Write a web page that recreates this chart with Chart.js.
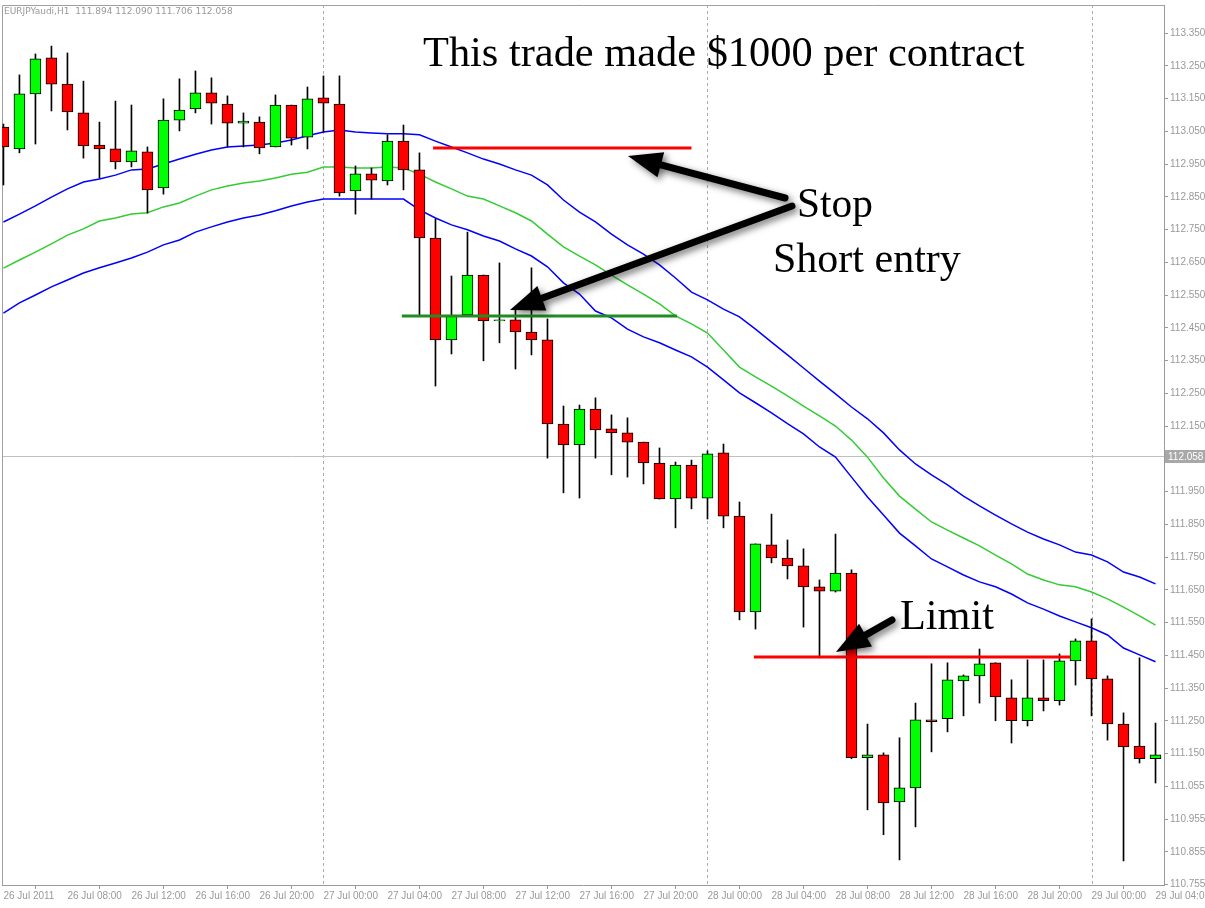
<!DOCTYPE html>
<html><head><meta charset="utf-8">
<script src="https://cdn.jsdelivr.net/npm/chart.js@4"></script>
<style>html,body{margin:0;padding:0;background:#fff}#wrap{width:1205px;height:908px;position:relative}</style>
</head><body><div id="wrap"><canvas id="c"></canvas></div>
<script>
const timeLabels=["26 Jul 2011","26 Jul 08:00","26 Jul 12:00","26 Jul 16:00","26 Jul 20:00","27 Jul 00:00","27 Jul 04:00","27 Jul 08:00","27 Jul 12:00","27 Jul 16:00","27 Jul 20:00","28 Jul 00:00","28 Jul 04:00","28 Jul 08:00","28 Jul 12:00","28 Jul 16:00","28 Jul 20:00","29 Jul 00:00","29 Jul 04:00"];
const priceTickValues=[113.35,113.25,113.15,113.05,112.95,112.85,112.75,112.65,112.55,112.45,112.35,112.25,112.15,112.05,111.95,111.85,111.75,111.65,111.55,111.45,111.35,111.25,111.15,111.05,110.95,110.85,110.75];
const priceTickLabels=["113.350","113.250","113.150","113.050","112.950","112.850","112.750","112.650","112.550","112.450","112.350","112.250","112.150","","111.950","111.850","111.750","111.650","111.550","111.450","111.350","111.250","111.150","111.055","110.955","110.855","110.755"];
const openP=[113.063,112.996,113.164,113.274,113.194,113.106,113.008,112.996,112.956,112.987,112.877,113.084,113.118,113.167,113.133,113.075,113.078,113.002,113.130,113.032,113.152,113.133,112.868,112.920,112.898,113.020,112.932,112.724,112.413,112.489,112.611,112.472,112.474,112.437,112.413,112.156,112.092,112.202,112.141,112.129,112.101,112.037,111.927,112.031,111.930,112.068,111.875,111.582,111.787,111.747,111.723,111.659,111.646,111.701,111.137,111.146,111.002,111.045,111.253,111.256,111.372,111.387,111.427,111.320,111.250,111.320,111.311,111.433,111.494,111.378,111.240,111.173,111.134];
const highP=[113.072,113.222,113.286,113.310,113.289,113.203,113.078,113.142,113.130,113.002,113.149,113.210,113.234,113.213,113.158,113.106,113.094,113.161,113.130,113.185,113.219,113.219,112.944,112.938,113.039,113.069,112.984,112.782,112.608,112.742,112.611,112.648,112.510,112.633,112.477,112.211,112.214,112.236,112.184,112.175,112.101,112.083,112.040,112.046,112.074,112.095,111.918,111.790,111.881,111.802,111.775,111.680,111.820,111.711,111.240,111.152,111.198,111.304,111.424,111.427,111.390,111.469,111.427,111.375,111.436,111.436,111.454,111.500,111.561,111.387,111.274,111.442,111.243];
const lowP=[112.886,112.984,113.011,113.112,113.054,112.968,112.907,112.935,112.941,112.800,112.858,113.051,113.106,113.072,113.002,113.002,112.981,113.002,113.008,112.996,113.048,112.852,112.797,112.843,112.886,112.871,112.486,112.272,112.370,112.489,112.349,112.404,112.324,112.367,112.052,111.946,111.930,112.052,112.001,111.994,111.973,111.927,111.839,111.897,111.866,111.839,111.558,111.530,111.732,111.683,111.536,111.442,111.643,111.134,110.978,110.902,110.825,110.926,111.155,111.216,111.265,111.304,111.250,111.182,111.234,111.280,111.298,111.359,111.265,111.191,110.822,111.121,111.060];
const closeP=[113.002,113.164,113.271,113.194,113.109,113.005,112.996,112.956,112.990,112.871,113.084,113.115,113.167,113.136,113.075,113.081,112.999,113.130,113.029,113.149,113.136,112.862,112.920,112.901,113.020,112.932,112.724,112.413,112.489,112.611,112.471,112.472,112.437,112.413,112.156,112.092,112.202,112.138,112.129,112.101,112.037,111.927,112.031,111.930,112.065,111.875,111.582,111.790,111.747,111.723,111.659,111.646,111.701,111.137,111.146,110.999,111.045,111.253,111.247,111.375,111.387,111.424,111.323,111.250,111.320,111.311,111.433,111.494,111.378,111.240,111.170,111.134,111.146];
const envUpper=[112.773,112.797,112.822,112.849,112.874,112.895,112.904,112.916,112.932,112.935,112.950,112.965,112.980,112.993,113.002,113.005,113.008,113.014,113.023,113.036,113.048,113.054,113.048,113.045,113.042,113.042,113.039,113.020,113.002,112.984,112.965,112.950,112.932,112.916,112.886,112.840,112.803,112.773,112.736,112.703,112.675,112.642,112.602,112.559,112.535,112.507,112.483,112.446,112.406,112.367,112.327,112.287,112.248,112.208,112.172,112.129,112.077,112.034,112.001,111.970,111.936,111.906,111.878,111.851,111.826,111.805,111.787,111.765,111.756,111.735,111.704,111.689,111.668];
const envMiddle=[112.632,112.657,112.681,112.706,112.733,112.752,112.776,112.785,112.797,112.801,112.819,112.831,112.852,112.871,112.883,112.892,112.898,112.907,112.919,112.925,112.941,112.941,112.938,112.938,112.941,112.938,112.919,112.895,112.874,112.852,112.843,112.822,112.801,112.776,112.736,112.697,112.669,112.642,112.611,112.581,112.553,112.523,112.486,112.462,112.434,112.382,112.330,112.300,112.272,112.242,112.211,112.181,112.150,112.107,112.055,111.991,111.936,111.896,111.857,111.832,111.808,111.784,111.756,111.729,111.698,111.680,111.665,111.659,111.643,111.622,111.597,111.570,111.542];
const envLower=[112.495,112.526,112.550,112.575,112.596,112.617,112.633,112.648,112.663,112.681,112.703,112.718,112.742,112.758,112.773,112.785,112.794,112.807,112.822,112.834,112.843,112.843,112.843,112.843,112.843,112.843,112.810,112.785,112.764,112.749,112.730,112.715,112.691,112.669,112.636,112.587,112.553,112.501,112.480,112.446,112.422,112.404,112.382,112.361,112.330,112.291,112.251,112.221,112.190,112.157,112.126,112.086,112.055,111.994,111.933,111.878,111.823,111.784,111.744,111.720,111.695,111.674,111.659,111.637,111.610,111.591,111.570,111.552,111.534,111.512,111.472,111.451,111.430];
const stopLevel={from:26.85,to:43.0,price:112.999};
const entryLevel={from:24.9,to:42.1,price:112.486};
const limitLevel={from:46.9,to:66.7,price:111.445};
const lastPrice=112.058;
const daySeparators=[20,44,68];

const idx=openP.map((_,i)=>i);
const wicks=idx.map(i=>({x:i,y:[lowP[i],highP[i]]}));
const bodies=idx.map(i=>({x:i,y:[openP[i],closeP[i]===openP[i]?openP[i]+0.002:closeP[i]]}));
const bodyColors=idx.map(i=>closeP[i]>=openP[i]?'#00ff00':'#ff0000');
const line=(arr)=>arr.map((v,i)=>({x:i,y:v}));
const lvl=(l)=>[{x:l.from,y:l.price},{x:l.to,y:l.price}];

function arrow(ctx,x1,y1,x2,y2){
  const a=Math.atan2(y2-y1,x2-x1),hl=34,hw=13;
  const bx=x2-hl*Math.cos(a),by=y2-hl*Math.sin(a);
  ctx.save();
  ctx.shadowColor='rgba(0,0,0,0.55)';ctx.shadowBlur=7;ctx.shadowOffsetX=3;ctx.shadowOffsetY=3;
  ctx.fillStyle='#000';ctx.strokeStyle='#000';ctx.lineWidth=7;ctx.lineCap='round';
  ctx.beginPath();ctx.moveTo(x1,y1);ctx.lineTo(bx,by);ctx.stroke();
  ctx.beginPath();ctx.moveTo(x2,y2);
  ctx.lineTo(bx+hw*Math.sin(a),by-hw*Math.cos(a));
  ctx.lineTo(bx-hw*Math.sin(a),by+hw*Math.cos(a));
  ctx.closePath();ctx.fill();
  ctx.restore();
}
function fitText(ctx,txt,x,base,w,size){
  ctx.font=size+'px "Liberation Serif"';
  const m=ctx.measureText(txt).width;
  const s=size*w/m;
  ctx.font=s.toFixed(1)+'px "Liberation Serif"';
  ctx.fillStyle='#000';ctx.textAlign='left';ctx.textBaseline='alphabetic';
  ctx.fillText(txt,x,base);
}
const overlay={
  id:'overlay',
  beforeDatasetsDraw(ch){
    const {ctx,chartArea:a,scales:{x,y}}=ch;
    ctx.save();
    ctx.strokeStyle='#aaa';ctx.lineWidth=1;ctx.setLineDash([3,3]);
    daySeparators.forEach(d=>{const px=Math.round(x.getPixelForValue(d))+0.5;ctx.beginPath();ctx.moveTo(px,a.top);ctx.lineTo(px,a.bottom);ctx.stroke();});
    ctx.setLineDash([]);ctx.strokeStyle='#c0c0c0';
    const py=Math.round(y.getPixelForValue(lastPrice))+0.5;
    ctx.beginPath();ctx.moveTo(a.left,py);ctx.lineTo(a.right,py);ctx.stroke();
    ctx.strokeStyle='#a0a0a0';
    ctx.beginPath();ctx.moveTo(a.left+0.5,a.bottom);ctx.lineTo(a.left+0.5,a.top+0.5);ctx.lineTo(a.right,a.top+0.5);ctx.stroke();
    ctx.restore();
  },
  afterDraw(ch){
    const {ctx,chartArea:a,scales:{y}}=ch;
    ctx.save();
    const py=Math.round(y.getPixelForValue(lastPrice));
    ctx.fillStyle='#a8a8a8';ctx.fillRect(a.right+1,py-6,40,13);
    ctx.fillStyle='#fff';ctx.font='10px "Liberation Sans"';ctx.textBaseline='middle';ctx.textAlign='left';
    ctx.fillText(lastPrice.toFixed(3),a.right+4,py+1);
    ctx.fillStyle='#999';ctx.font='9px "DejaVu Sans"';ctx.textBaseline='alphabetic';
    ctx.fillText('EURJPYaudi,H1  111.894 112.090 111.706 112.058',4,14);
    fitText(ctx,'This trade made $1000 per contract',423,66,602,40);
    fitText(ctx,'Stop',797,217,76,38);
    fitText(ctx,'Short entry',773,272,188,38);
    fitText(ctx,'Limit',900,629,94,38);
    arrow(ctx,785,198,628,156);
    arrow(ctx,792,206,510,310);
    arrow(ctx,892,620,836,652);
    ctx.restore();
  }
};
new Chart(document.getElementById('c'),{
  type:'bar',
  data:{datasets:[
    {type:'line',data:lvl(stopLevel),borderColor:'#ff0000',borderWidth:3,pointRadius:0,order:1},
    {type:'line',data:lvl(entryLevel),borderColor:'#228b22',borderWidth:3,pointRadius:0,order:1},
    {type:'line',data:lvl(limitLevel),borderColor:'#ff0000',borderWidth:3,pointRadius:0,order:1},
    {type:'bar',data:bodies,backgroundColor:bodyColors,borderColor:'#000',borderWidth:1,borderSkipped:false,barThickness:11,grouped:false,order:2},
    {type:'bar',data:wicks,backgroundColor:'#000',borderWidth:0,barThickness:1,grouped:false,order:3},
    {type:'line',data:line(envUpper),borderColor:'#0000ff',borderWidth:1.5,pointRadius:0,tension:0,order:4},
    {type:'line',data:line(envMiddle),borderColor:'#33cc33',borderWidth:1.5,pointRadius:0,tension:0,order:4},
    {type:'line',data:line(envLower),borderColor:'#0000ff',borderWidth:1.5,pointRadius:0,tension:0,order:4}
  ]},
  options:{
    responsive:true,maintainAspectRatio:false,animation:false,devicePixelRatio:1,
    layout:{padding:{left:2,top:5,right:0,bottom:0}},
    plugins:{legend:{display:false},tooltip:{enabled:false}},
    scales:{
      x:{type:'linear',min:-0.09,max:72.53,offset:false,
        afterBuildTicks(s){s.ticks=timeLabels.map((_,k)=>({value:k*4}));},
        afterFit(s){s.height=23;s.paddingLeft=0;s.paddingRight=0;},
        ticks:{autoSkip:false,maxRotation:0,align:'start',padding:1,color:'#999',font:{family:'Liberation Sans',size:10},callback:(v)=>timeLabels[Math.round(v/4)]},
        grid:{drawOnChartArea:false,tickLength:4,color:'#999'},border:{color:'#999'}},
      y:{position:'right',min:110.7485,max:113.4355,
        afterBuildTicks(s){s.ticks=priceTickValues.map(v=>({value:v}));},
        afterFit(s){s.width=41;s.paddingTop=0;s.paddingBottom=0;},
        ticks:{autoSkip:false,padding:2,color:'#999',font:{family:'Liberation Sans',size:10},callback:(v)=>priceTickLabels[priceTickValues.findIndex(t=>Math.abs(t-v)<1e-6)]},
        grid:{drawOnChartArea:false,tickLength:4,color:'#999'},border:{color:'#999'}}
    }
  },
  plugins:[overlay]
});
</script></body></html>
